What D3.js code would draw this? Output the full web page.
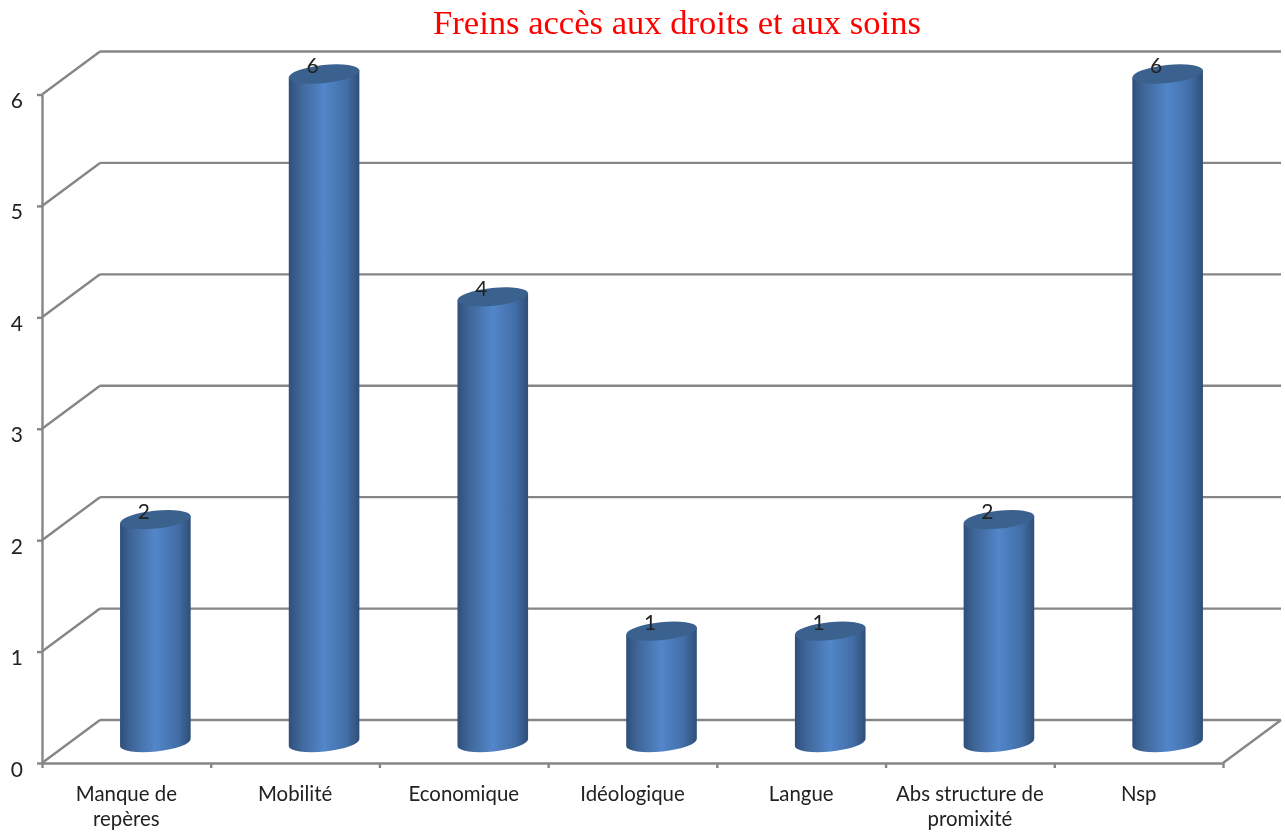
<!DOCTYPE html>
<meta charset="utf-8" />
<style>
  body {
    margin: 0px;
    padding: 0px;
    background: #fff;
  }
  svg {
    display: block;
    filter: blur(0.4px);
  }
  .grid line,
  .grid path {
    stroke: #868686;
    stroke-width: 2.4px;
    fill: none;
  }
  .axis path,
  .axis line {
    stroke: #868686;
    stroke-width: 2.4px;
  }
  .axis text,
  .vallabel {
    font-family: Lato, "Open Sans", sans-serif;
    font-size: 21px;
    fill: #222;
  }
  .catlabel {
    font-family: Lato, "Open Sans", sans-serif;
    font-size: 20.4px;
    fill: #222;
  }
</style>

<svg width="1285" height="834"></svg>

<script src="https://d3js.org/d3.v7.min.js"></script>
<script>
  const categories = [
    ["Manque de", "repères"],
    ["Mobilité"],
    ["Economique"],
    ["Idéologique"],
    ["Langue"],
    ["Abs structure de", "promixité"],
    ["Nsp"],
  ];
  const values = [2, 6, 4, 1, 1, 2, 6];
  const yTicks = [0, 1, 2, 3, 4, 5, 6];
  const chartTitle = "Freins accès aux droits et aux soins";

  const svg = d3.select("svg");

  // front plane of the fake 3d box
  const frontLeft = 42,
    frontRight = 1223,
    frontBottom = 763,
    frontTop = 94.5;
  // how far the back wall is shifted
  const depthX = 58,
    depthY = -43;

  const x = d3.scaleLinear().domain([0, categories.length]).range([frontLeft, frontRight]);
  const y = d3.scaleLinear().domain([0, 6]).range([frontBottom, frontTop]);

  // cylinder shape
  const rx = 35.5,
    ry = 9,
    tilt = 6;
  const cosT = Math.cos((tilt * Math.PI) / 180) * rx,
    sinT = Math.sin((tilt * Math.PI) / 180) * rx;

  const defs = svg.append("defs");
  const grad = defs.append("linearGradient").attr("id", "barGrad");
  grad.append("stop").attr("offset", "0%").attr("stop-color", "#2f4f7c");
  grad.append("stop").attr("offset", "16%").attr("stop-color", "#3f6698");
  grad.append("stop").attr("offset", "50%").attr("stop-color", "#5286ca");
  grad.append("stop").attr("offset", "82%").attr("stop-color", "#426ea6");
  grad.append("stop").attr("offset", "100%").attr("stop-color", "#2f4e78");

  svg
    .append("text")
    .attr("x", 677)
    .attr("y", 34)
    .attr("text-anchor", "middle")
    .attr("font-family", "Liberation Serif")
    .attr("font-size", 34.6)
    .attr("fill", "#ff0000")
    .text(chartTitle);

  // back wall lines and the slanted ones on the left wall
  const grid = svg.append("g").attr("class", "grid");
  grid
    .selectAll(".back")
    .data(yTicks)
    .enter()
    .append("line")
    .attr("class", "back")
    .attr("x1", frontLeft + depthX)
    .attr("x2", frontRight + depthX)
    .attr("y1", (d) => y(d) + depthY)
    .attr("y2", (d) => y(d) + depthY);
  grid
    .selectAll(".side")
    .data(yTicks)
    .enter()
    .append("line")
    .attr("class", "side")
    .attr("x1", frontLeft)
    .attr("x2", frontLeft + depthX)
    .attr("y1", (d) => y(d))
    .attr("y2", (d) => y(d) + depthY);
  // floor edge on the right
  grid
    .append("line")
    .attr("x1", frontRight)
    .attr("x2", frontRight + depthX)
    .attr("y1", y(0))
    .attr("y2", y(0) + depthY);

  const yAxis = svg
    .append("g")
    .attr("class", "axis")
    .attr("transform", `translate(${frontLeft},0)`)
    .call(d3.axisLeft(y).tickValues(yTicks).tickFormat(d3.format("d")).tickSize(5).tickPadding(14).tickSizeOuter(0));
  yAxis.selectAll("text").attr("dy", 13);

  svg
    .append("g")
    .attr("class", "axis")
    .attr("transform", `translate(0,${frontBottom})`)
    .call(d3.axisBottom(x).tickValues(d3.range(categories.length + 1)).tickFormat("").tickSize(5).tickSizeOuter(0));

  // bars sit in the middle of the floor
  const baseY = y(0) + depthY / 2 + 1;
  const barH = (d) => y(0) - y(d);
  const cx = (i) => x(i + 0.5) + 29;

  function bodyPath(d, i) {
    const c = cx(i),
      t = baseY - barH(d);
    return (
      `M${c - cosT},${t + sinT}` +
      `L${c - cosT},${baseY + sinT}` +
      `A${rx},${ry} ${-tilt} 0 0 ${c + cosT},${baseY - sinT}` +
      `L${c + cosT},${t - sinT}Z`
    );
  }

  const bars = svg.append("g").attr("class", "bars");
  bars
    .selectAll(".body")
    .data(values)
    .enter()
    .append("path")
    .attr("class", "body")
    .attr("d", bodyPath)
    .attr("fill", "url(#barGrad)");
  bars
    .selectAll(".cap")
    .data(values)
    .enter()
    .append("ellipse")
    .attr("class", "cap")
    .attr("rx", rx)
    .attr("ry", ry)
    .attr("fill", "#3b628f")
    .attr("transform", (d, i) => `translate(${cx(i)},${baseY - barH(d)}) rotate(${-tilt})`);

  svg
    .selectAll(".vallabel")
    .data(values)
    .enter()
    .append("text")
    .attr("class", "vallabel")
    .attr("x", (d, i) => cx(i) - 11.5)
    .attr("y", (d) => baseY - barH(d) - 1)
    .attr("text-anchor", "middle")
    .text((d) => d);

  const cat = svg
    .selectAll(".catlabel")
    .data(categories)
    .enter()
    .append("text")
    .attr("class", "catlabel")
    .attr("text-anchor", "middle");
  cat
    .selectAll("tspan")
    .data((d, i) => d.map((line, j) => ({ line, j, i })))
    .enter()
    .append("tspan")
    .attr("x", (d) => x(d.i + 0.5))
    .attr("y", (d) => 801 + d.j * 25)
    .text((d) => d.line);
</script>
